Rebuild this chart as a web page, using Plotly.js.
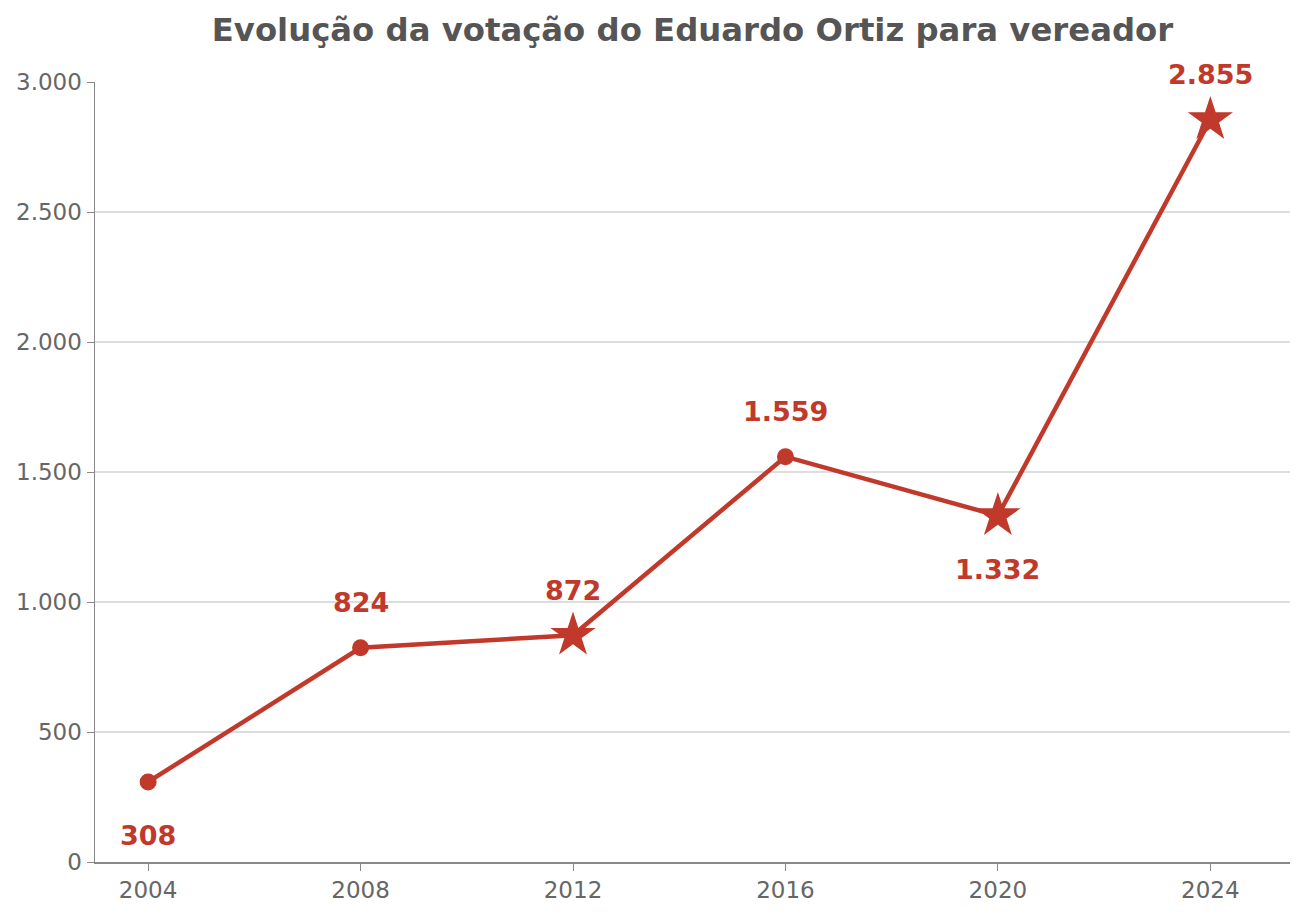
<!DOCTYPE html>
<html>
<head>
<meta charset="utf-8">
<script src="https://cdn.plot.ly/plotly-3.0.1.min.js"></script>
<style>
  html, body { margin: 0; padding: 0; background: #fff; }
  #chart { width: 1305px; height: 915px; }
</style>
</head>
<body>
<div id="chart"></div>
<script>
const years = [2004, 2008, 2012, 2016, 2020, 2024];
const votes = [308, 824, 872, 1559, 1332, 2855];
const labels = ['308', '824', '872', '1.559', '1.332', '2.855'];
const symbols = ['circle', 'circle', 'star', 'circle', 'star', 'star'];
const labelBelow = [true, false, false, false, true, false];

const red = '#c0392b';

const trace = {
  x: years,
  y: votes,
  type: 'scatter',
  mode: 'lines+markers',
  line: { color: red, width: 4.5 },
  marker: {
    color: red,
    opacity: 1,
    symbol: symbols,
    size: symbols.map(s => s === 'star' ? 34 : 17),
    line: { width: 0 }
  },
  hoverinfo: 'x+y',
  showlegend: false
};

// value labels above/below each point
const annotations = years.map((yr, i) => ({
  x: yr,
  y: votes[i],
  xref: 'x',
  yref: 'y',
  text: '<b>' + labels[i] + '</b>',
  showarrow: false,
  yshift: labelBelow[i] ? -54 : 45,
  font: { family: 'DejaVu Sans', size: 27, color: red }
}));

const layout = {
  width: 1305,
  height: 915,
  margin: { l: 95, r: 15, t: 82, b: 53 },
  paper_bgcolor: '#fff',
  plot_bgcolor: '#fff',
  separators: ',.',
  font: { family: 'DejaVu Sans', color: '#666' },
  title: {
    text: '<b>Evolução da votação do Eduardo Ortiz para vereador</b>',
    font: { family: 'DejaVu Sans', size: 32.3, color: '#555' },
    x: 0.5, xref: 'paper', xanchor: 'center',
    y: 1 - 30 / 915, yref: 'container', yanchor: 'middle'
  },
  xaxis: {
    range: [2003, 2025.5],
    tickvals: years,
    ticktext: years.map(String),
    showgrid: false,
    zeroline: false,
    showline: true,
    linecolor: '#888',
    linewidth: 1.5,
    ticks: 'outside',
    ticklen: 7,
    tickcolor: '#888',
    tickfont: { size: 23, color: '#666' }
  },
  yaxis: {
    range: [0, 3000],
    tickvals: [0, 500, 1000, 1500, 2000, 2500, 3000],
    tickformat: ',d',
    showgrid: true,
    gridcolor: '#dddddd',
    gridwidth: 1.2,
    zeroline: false,
    showline: true,
    linecolor: '#888',
    linewidth: 1.5,
    ticks: 'outside',
    ticklen: 7,
    tickcolor: '#888',
    tickfont: { size: 23, color: '#666' }
  },
  annotations: annotations
};

Plotly.newPlot('chart', [trace], layout, { displayModeBar: false, staticPlot: true });
</script>
</body>
</html>
